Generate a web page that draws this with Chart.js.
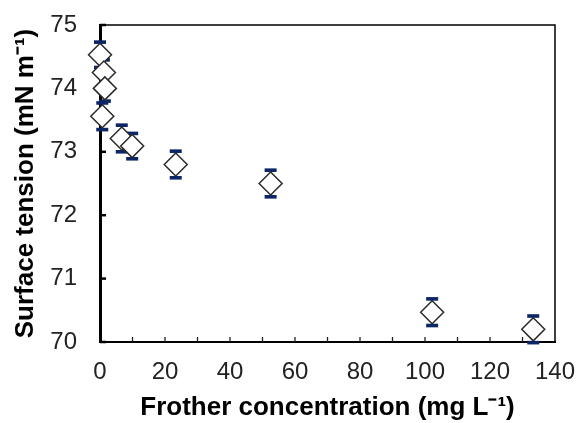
<!DOCTYPE html>
<html>
<head>
<meta charset="utf-8">
<script src="https://cdn.jsdelivr.net/npm/chart.js@4"></script>
<style>
  html, body { margin: 0; padding: 0; background: #fff; }
  #wrap { width: 578px; height: 423px; }
</style>
</head>
<body>
<div id="wrap"><canvas id="chart_surfaceTension"></canvas></div>
<script>
// frother concentration (mg/L) vs surface tension (mN/m), +/- error
var concentration = [0, 1.2, 1.5, 0.7, 6.7, 9.9, 23.3, 52.5, 102.2, 133.3];
var tension = [74.53, 74.25, 74.0, 73.56, 73.21, 73.09, 72.8, 72.5, 70.47, 70.2];
var tensionError = [0.2, 0.2, 0.2, 0.21, 0.21, 0.2, 0.21, 0.21, 0.21, 0.21];
var xTicks = [0, 20, 40, 60, 80, 100, 120, 140];
var yTicks = [70, 71, 72, 73, 74, 75];

var fontFamily = "'Liberation Sans', Arial, sans-serif";
var capColor = '#0b2566';

var points = concentration.map(function (c, i) { return { x: c, y: tension[i] }; });

var errorBars = {
    id: 'errorBars',
    beforeDatasetsDraw: function (chart) {
        var ctx = chart.ctx, x = chart.scales.x, y = chart.scales.y, area = chart.chartArea;
        ctx.save();
        // frame top / right
        ctx.strokeStyle = '#000';
        ctx.lineWidth = 1.5;
        ctx.beginPath();
        ctx.moveTo(area.left, area.top);
        ctx.lineTo(area.right, area.top);
        ctx.lineTo(area.right, area.bottom);
        ctx.stroke();
        // inward tick marks
        ctx.lineWidth = 2.5;
        yTicks.forEach(function (v) {
            var py = y.getPixelForValue(v);
            ctx.beginPath();
            ctx.moveTo(area.left, py);
            ctx.lineTo(area.left + 6, py);
            ctx.stroke();
        });
        ctx.lineWidth = 1.3;
        ctx.strokeStyle = '#222';
        for (var v = 10; v < 140; v += 10) {
            var px = x.getPixelForValue(v);
            ctx.beginPath();
            ctx.moveTo(px, area.bottom);
            ctx.lineTo(px, area.bottom - 5);
            ctx.stroke();
        }
        // error bars
        ctx.strokeStyle = capColor;
        ctx.fillStyle = capColor;
        ctx.lineWidth = 1.5;
        concentration.forEach(function (c, i) {
            var px = x.getPixelForValue(c);
            var top = y.getPixelForValue(tension[i] + tensionError[i]);
            var bot = y.getPixelForValue(tension[i] - tensionError[i]);
            ctx.beginPath();
            ctx.moveTo(px, top);
            ctx.lineTo(px, bot);
            ctx.stroke();
            ctx.fillRect(px - 6, top - 1.8, 12, 3.6);
            ctx.fillRect(px - 6, bot - 1.8, 12, 3.6);
        });
        ctx.restore();
    }
};

var chart_surfaceTension = new Chart(document.getElementById('chart_surfaceTension'), {
    type: 'scatter',
    data: {
        datasets: [
            {
                label: 'Surface tension',
                data: points,
                pointStyle: 'rectRot',
                pointRadius: 11.5,
                pointHoverRadius: 11.5,
                pointBackgroundColor: '#fff',
                pointBorderColor: '#2a2a2a',
                pointBorderWidth: 1.5,
                clip: false
            }
        ]
    },
    options: {
        animation: false,
        responsive: true,
        maintainAspectRatio: false,
        layout: {
            padding: { left: 0, top: 25, right: 23, bottom: 0 }
        },
        plugins: {
            legend: { display: false },
            tooltip: { enabled: false }
        },
        scales: {
            x: {
                type: 'linear',
                min: 0,
                max: 140,
                afterFit: function (scale) {
                    scale.height = 81;
                    scale.paddingLeft = 0;
                    scale.paddingRight = 0;
                },
                grid: { display: true, drawOnChartArea: false, drawTicks: false },
                border: { display: true, color: '#000', width: 2 },
                ticks: {
                    stepSize: 20,
                    padding: 16,
                    maxRotation: 0,
                    autoSkip: false,
                    color: '#222',
                    font: { family: fontFamily, size: 24 }
                },
                afterBuildTicks: function (scale) {
                    scale.ticks = xTicks.map(function (v) { return { value: v }; });
                },
                title: {
                    display: true,
                    text: 'Frother concentration (mg L\u207B\u00B9)',
                    color: '#000',
                    padding: { top: 0, bottom: 0 },
                    font: { family: fontFamily, size: 26, weight: 'bold' }
                }
            },
            y: {
                type: 'linear',
                min: 70,
                max: 75,
                afterFit: function (scale) {
                    scale.width = 100;
                    scale.paddingTop = 0;
                    scale.paddingBottom = 0;
                },
                grid: { display: true, drawOnChartArea: false, drawTicks: false },
                border: { display: true, color: '#000', width: 3 },
                ticks: {
                    stepSize: 1,
                    padding: 23,
                    color: '#222',
                    font: { family: fontFamily, size: 24 }
                },
                afterBuildTicks: function (scale) {
                    scale.ticks = yTicks.map(function (v) { return { value: v }; });
                },
                title: {
                    display: true,
                    text: 'Surface tension (mN m\u207B\u00B9)',
                    color: '#000',
                    padding: { top: 10, bottom: 0 },
                    font: { family: fontFamily, size: 26, weight: 'bold' }
                }
            }
        }
    },
    plugins: [errorBars, {
        id: 'whiteBackground',
        beforeDraw: function (chart) {
            var ctx = chart.canvas.getContext('2d');
            ctx.save();
            ctx.globalCompositeOperation = 'destination-over';
            ctx.fillStyle = 'white';
            ctx.fillRect(0, 0, chart.canvas.width, chart.canvas.height);
            ctx.restore();
        }
    }]
});
</script>
</body>
</html>
